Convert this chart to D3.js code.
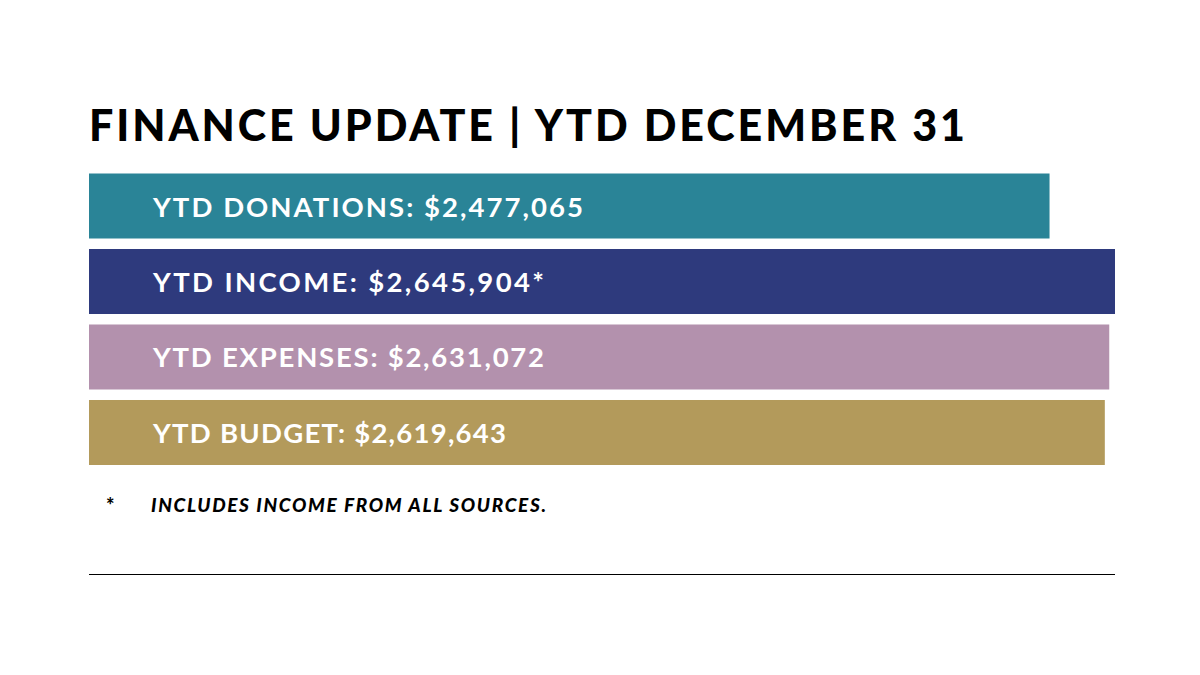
<!DOCTYPE html>
<html><head><meta charset="utf-8">
<script src="https://cdn.jsdelivr.net/npm/d3@7"></script>
<style>html,body{margin:0;padding:0;background:#fff}svg{display:block}</style>
</head><body>
<svg id="c" width="1200" height="675"></svg>
<script>
const categories = ["YTD DONATIONS", "YTD INCOME", "YTD EXPENSES", "YTD BUDGET"];
const values = [2477065, 2645904, 2631072, 2619643];
const suffixes = ["", "*", "", ""];
const colors = ["#2a8497", "#2e3a7d", "#b391ad", "#b39a5b"];
const title = "FINANCE UPDATE | YTD DECEMBER 31";
const footnote = "INCLUDES INCOME FROM ALL SOURCES.";

const svg = d3.select("#c");
const left = 89, right = 1115;
const x = d3.scaleLinear().domain([0, d3.max(values)]).range([left, right]);
const y = d3.scaleBand().domain(categories).range([173.5, 465]).paddingInner(0.139).paddingOuter(0);
const fmt = d3.format(",");

svg.append("text").attr("x", left).attr("y", 140.5)
  .attr("font-family", "Lato, 'DejaVu Sans', sans-serif").attr("font-weight", 900)
  .attr("font-size", 43).attr("fill", "#000")
  .attr("textLength", 876).attr("lengthAdjust", "spacing")
  .text(title);

const g = svg.append("g");
g.selectAll("rect").data(categories).join("rect")
  .attr("x", x(0)).attr("y", d => y(d))
  .attr("width", (d, i) => x(values[i]) - x(0))
  .attr("height", y.bandwidth())
  .attr("fill", (d, i) => colors[i]);

const labelWidths = [430, 391, 391, 353];
g.selectAll("text").data(categories).join("text")
  .attr("x", 153).attr("y", d => y(d) + 43)
  .attr("font-family", "Lato, 'DejaVu Sans', sans-serif").attr("font-weight", 700)
  .attr("font-size", 27.5).attr("fill", "#fff")
  .attr("textLength", (d, i) => labelWidths[i]).attr("lengthAdjust", "spacing")
  .text((d, i) => `${d}: $${fmt(values[i])}${suffixes[i]}`);

svg.append("text").attr("x", 106).attr("y", 513)
  .attr("font-family", "Lato, sans-serif").attr("font-weight", 900)
  .attr("font-size", 20).text("*");
svg.append("text").attr("x", 151).attr("y", 512)
  .attr("font-family", "Lato, sans-serif").attr("font-weight", 900).attr("font-style", "italic")
  .attr("font-size", 19).attr("textLength", 395).attr("lengthAdjust", "spacing")
  .text(footnote);

svg.append("line").attr("x1", left).attr("x2", right).attr("y1", 574.5).attr("y2", 574.5)
  .attr("stroke", "#000").attr("stroke-width", 1.2);
</script>
</body></html>
